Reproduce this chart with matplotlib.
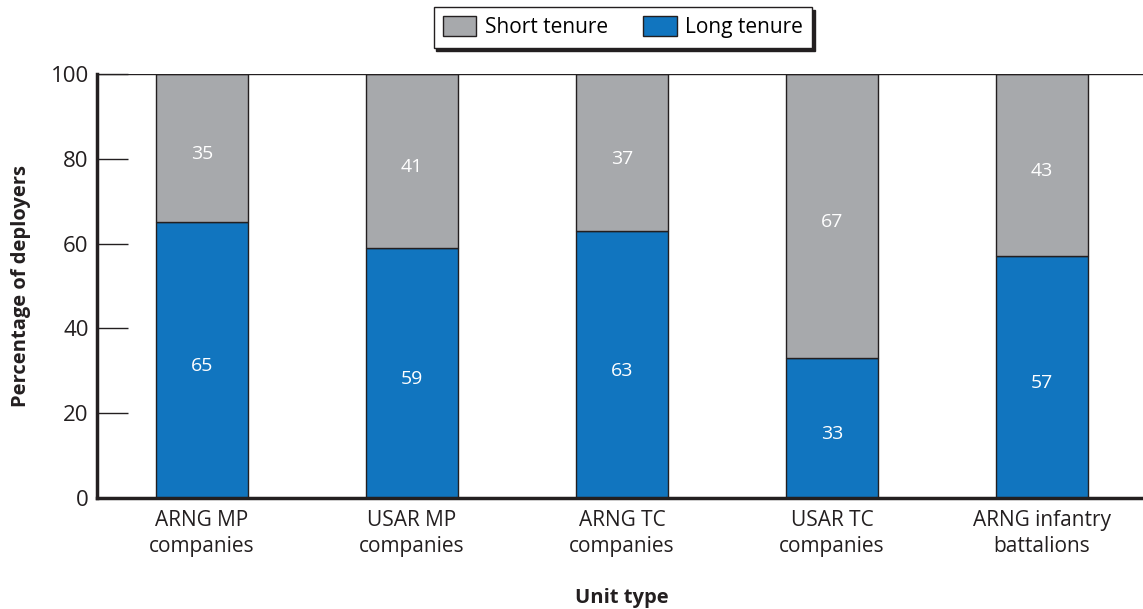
import matplotlib
matplotlib.use("Agg")
import matplotlib.pyplot as plt

categories = ["ARNG MP\ncompanies", "USAR MP\ncompanies", "ARNG TC\ncompanies",
              "USAR TC\ncompanies", "ARNG infantry\nbattalions"]
long_tenure = [65, 59, 63, 33, 57]
short_tenure = [35, 41, 37, 67, 43]
yticks = [0, 20, 40, 60, 80, 100]

plt.rcParams['font.family'] = ['Open Sans', 'DejaVu Sans']
GRAY = '#a7a9ac'
BLUE = '#1175bf'
EDGE = '#231f20'

fig = plt.figure(figsize=(11.43, 6.09), dpi=100)
ax = fig.add_axes([0.0849, 0.1823, 0.9186, 0.6962])

x = list(range(len(categories)))
w = 0.435
b1 = ax.bar(x, long_tenure, width=w, color=BLUE, edgecolor=EDGE, linewidth=1.0, label='Long tenure')
b2 = ax.bar(x, short_tenure, width=w, bottom=long_tenure, color=GRAY, edgecolor=EDGE, linewidth=1.0, label='Short tenure')

for xi, l, s in zip(x, long_tenure, short_tenure):
    ax.annotate(str(l), (xi, l / 2), xytext=(0, -3), textcoords='offset points',
                ha='center', va='center_baseline', color='white', fontsize=14)
    ax.annotate(str(s), (xi, l + s / 2), xytext=(0, -3), textcoords='offset points',
                ha='center', va='center_baseline', color='white', fontsize=14)

ax.set_xlim(-0.5, 4.5)
ax.set_ylim(0, 100)
ax.set_yticks(yticks)
ax.set_xticks(x)
ax.set_xticklabels(categories, fontsize=15, color='#231f20', linespacing=1.3)
ax.tick_params(axis='y', direction='in', length=22, width=1.0, labelsize=16, colors='#231f20', pad=6)
ax.tick_params(axis='x', length=0, pad=9)
for sp in ['top', 'right']:
    ax.spines[sp].set_visible(False)
ax.spines['left'].set_linewidth(2.5)
ax.spines['bottom'].set_linewidth(2.5)
ax.spines['left'].set_color('#231f20')
ax.spines['bottom'].set_color('#231f20')
ax.axhline(100, color='#231f20', lw=1.0, xmin=0, xmax=1)

ax.set_ylabel('Percentage of deployers', fontsize=14.5, fontweight='bold', labelpad=14, color='#231f20')
ax.set_xlabel('Unit type', fontsize=14.5, fontweight='bold', labelpad=22, color='#231f20')

leg = fig.legend(handles=[b2, b1], labels=['Short tenure', 'Long tenure'], loc='center',
                 bbox_to_anchor=(0.545, 0.955), ncol=2, fontsize=15, frameon=True,
                 fancybox=False, shadow={'color': '#231f20', 'alpha': 1.0}, edgecolor='#231f20',
                 handlelength=1.6, handleheight=1.1, columnspacing=1.7, handletextpad=0.4,
                 borderpad=0.45)
leg.get_frame().set_linewidth(1.0)

fig.savefig('out.png', dpi=100)
